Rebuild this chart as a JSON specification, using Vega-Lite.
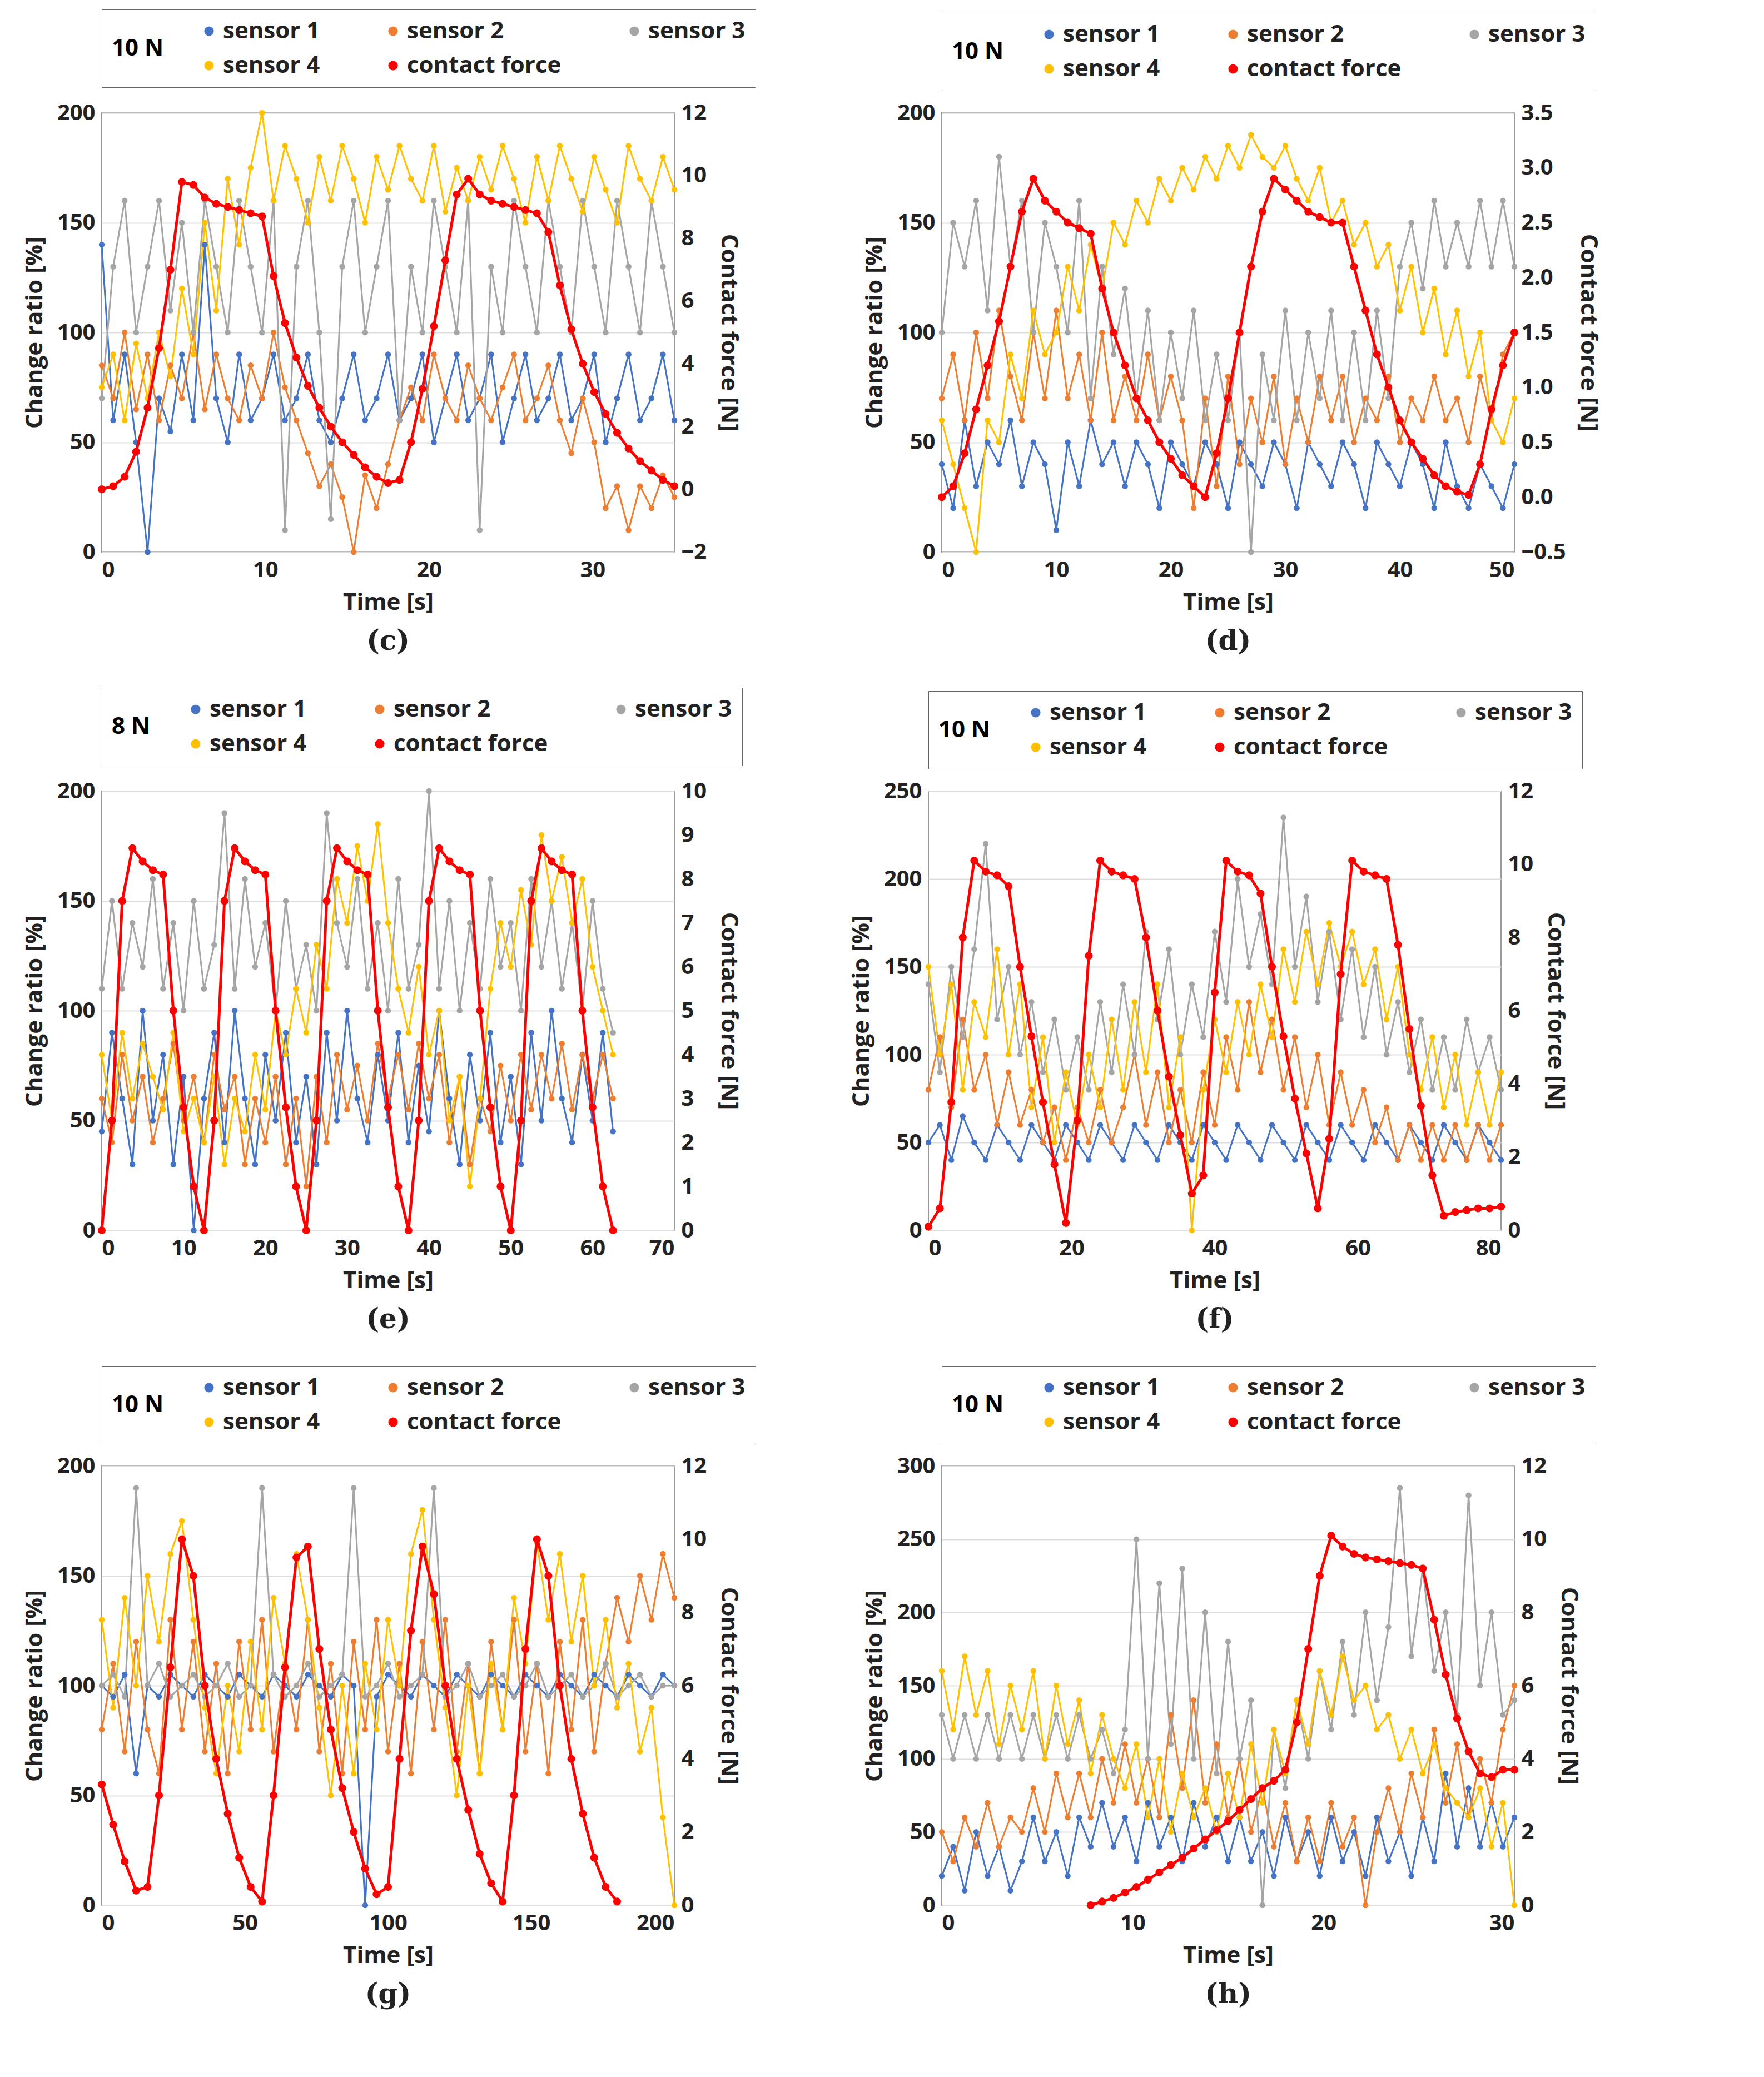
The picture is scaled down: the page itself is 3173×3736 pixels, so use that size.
{
  "$schema": "https://vega.github.io/schema/vega-lite/v6.json",
  "background": "white",
  "padding": {"left": 40, "top": 15, "right": 20, "bottom": 10},
  "vconcat": [
    {
      "hconcat": [
        {
          "width": 1030, "height": 790,
          "title": {"text": "(c)", "orient": "bottom"},
          "data": {"values": [
            {"t":0,"s1":140,"s2":85,"s3":70,"s4":75,"F":0},
            {"t":0.7,"s1":60,"s2":70,"s3":130,"s4":90,"F":0.1},
            {"t":1.4,"s1":90,"s2":100,"s3":160,"s4":60,"F":0.4},
            {"t":2.1,"s1":50,"s2":65,"s3":100,"s4":95,"F":1.2},
            {"t":2.8,"s1":0,"s2":90,"s3":130,"s4":70,"F":2.6},
            {"t":3.5,"s1":70,"s2":60,"s3":160,"s4":100,"F":4.5},
            {"t":4.2,"s1":55,"s2":85,"s3":110,"s4":80,"F":7},
            {"t":4.9,"s1":90,"s2":70,"s3":150,"s4":120,"F":9.8},
            {"t":5.6,"s1":60,"s2":100,"s3":100,"s4":90,"F":9.7},
            {"t":6.3,"s1":140,"s2":65,"s3":160,"s4":150,"F":9.3},
            {"t":7,"s1":70,"s2":90,"s3":130,"s4":110,"F":9.1},
            {"t":7.7,"s1":50,"s2":70,"s3":100,"s4":170,"F":9.0},
            {"t":8.4,"s1":90,"s2":60,"s3":160,"s4":140,"F":8.9},
            {"t":9.1,"s1":60,"s2":85,"s3":130,"s4":175,"F":8.8},
            {"t":9.8,"s1":70,"s2":70,"s3":100,"s4":200,"F":8.7},
            {"t":10.5,"s1":90,"s2":100,"s3":160,"s4":160,"F":6.8},
            {"t":11.2,"s1":60,"s2":75,"s3":10,"s4":185,"F":5.3},
            {"t":11.9,"s1":70,"s2":60,"s3":130,"s4":170,"F":4.2},
            {"t":12.6,"s1":90,"s2":45,"s3":160,"s4":150,"F":3.3},
            {"t":13.3,"s1":60,"s2":30,"s3":100,"s4":180,"F":2.6},
            {"t":14,"s1":50,"s2":40,"s3":15,"s4":160,"F":2},
            {"t":14.7,"s1":70,"s2":25,"s3":130,"s4":185,"F":1.5},
            {"t":15.4,"s1":90,"s2":0,"s3":160,"s4":170,"F":1.1},
            {"t":16.1,"s1":60,"s2":35,"s3":100,"s4":150,"F":0.7},
            {"t":16.8,"s1":70,"s2":20,"s3":130,"s4":180,"F":0.4},
            {"t":17.5,"s1":90,"s2":40,"s3":160,"s4":165,"F":0.2},
            {"t":18.2,"s1":60,"s2":60,"s3":60,"s4":185,"F":0.3},
            {"t":18.9,"s1":70,"s2":75,"s3":130,"s4":170,"F":1.5},
            {"t":19.6,"s1":90,"s2":60,"s3":100,"s4":160,"F":3.2},
            {"t":20.3,"s1":50,"s2":90,"s3":160,"s4":185,"F":5.2},
            {"t":21,"s1":70,"s2":70,"s3":130,"s4":155,"F":7.3},
            {"t":21.7,"s1":90,"s2":60,"s3":100,"s4":175,"F":9.4},
            {"t":22.4,"s1":60,"s2":85,"s3":160,"s4":160,"F":9.9},
            {"t":23.1,"s1":70,"s2":70,"s3":10,"s4":180,"F":9.4},
            {"t":23.8,"s1":90,"s2":60,"s3":130,"s4":165,"F":9.2},
            {"t":24.5,"s1":50,"s2":75,"s3":100,"s4":185,"F":9.1},
            {"t":25.2,"s1":70,"s2":90,"s3":160,"s4":170,"F":9.0},
            {"t":25.9,"s1":90,"s2":60,"s3":130,"s4":150,"F":8.9},
            {"t":26.6,"s1":60,"s2":70,"s3":100,"s4":180,"F":8.8},
            {"t":27.3,"s1":70,"s2":85,"s3":160,"s4":160,"F":8.2},
            {"t":28,"s1":90,"s2":60,"s3":130,"s4":185,"F":6.5},
            {"t":28.7,"s1":60,"s2":45,"s3":100,"s4":170,"F":5.1},
            {"t":29.4,"s1":70,"s2":70,"s3":160,"s4":155,"F":4.0},
            {"t":30.1,"s1":90,"s2":50,"s3":130,"s4":180,"F":3.1},
            {"t":30.8,"s1":50,"s2":20,"s3":100,"s4":165,"F":2.4},
            {"t":31.5,"s1":70,"s2":30,"s3":160,"s4":150,"F":1.8},
            {"t":32.2,"s1":90,"s2":10,"s3":130,"s4":185,"F":1.3},
            {"t":32.9,"s1":60,"s2":30,"s3":100,"s4":170,"F":0.9},
            {"t":33.6,"s1":70,"s2":20,"s3":160,"s4":160,"F":0.6},
            {"t":34.3,"s1":90,"s2":35,"s3":130,"s4":180,"F":0.3},
            {"t":35,"s1":60,"s2":25,"s3":100,"s4":165,"F":0.1}
          ]},
          "layer": [
            {
              "transform": [{"fold": ["s1","s2","s3","s4"], "as": ["key","v"]}],
              "mark": {"type": "line", "strokeWidth": 3, "point": {"filled": true, "size": 110}},
              "encoding": {
                "x": {"field": "t", "type": "quantitative", "scale": {"domain": [0,35]}, "axis": {"title": "Time  [s]", "values": [0,10,20,30]}},
                "y": {"field": "v", "type": "quantitative", "scale": {"domain": [0,200]}, "axis": {"title": "Change ratio  [%]", "values": [0,50,100,150,200]}},
                "color": {"field": "key", "type": "nominal", "scale": {"domain": ["s1","s2","s3","s4","F"], "range": ["#4472C4","#ED7D31","#A5A5A5","#FFC000","#FF0000"]}, "legend": {"title": "10 N", "labelExpr": "datum.value == 'F' ? 'contact force' : 'sensor ' + slice(datum.value, 1)"}}
              }
            },
            {
              "transform": [{"filter": "datum.F != null"}],
              "mark": {"type": "line", "strokeWidth": 5, "color": "#FF0000", "point": {"filled": true, "size": 200, "color": "#FF0000"}},
              "encoding": {
                "x": {"field": "t", "type": "quantitative"},
                "y": {"field": "F", "type": "quantitative", "scale": {"domain": [-2,12]}, "axis": {"orient": "right", "title": "Contact force  [N]", "values": [-2,0,2,4,6,8,10,12], "grid": false}},
                "color": {"datum": "F"}
              }
            }
          ],
          "resolve": {"scale": {"y": "independent"}}
        },
        {
          "width": 1030, "height": 790,
          "title": {"text": "(d)", "orient": "bottom"},
          "data": {"values": [
            {"t":0,"s1":40,"s2":70,"s3":100,"s4":60,"F":0},
            {"t":1,"s1":20,"s2":90,"s3":150,"s4":40,"F":0.1},
            {"t":2,"s1":60,"s2":60,"s3":130,"s4":20,"F":0.4},
            {"t":3,"s1":30,"s2":100,"s3":160,"s4":0,"F":0.8},
            {"t":4,"s1":50,"s2":70,"s3":110,"s4":60,"F":1.2},
            {"t":5,"s1":40,"s2":110,"s3":180,"s4":50,"F":1.6},
            {"t":6,"s1":60,"s2":80,"s3":130,"s4":90,"F":2.1},
            {"t":7,"s1":30,"s2":60,"s3":160,"s4":70,"F":2.6},
            {"t":8,"s1":50,"s2":100,"s3":100,"s4":110,"F":2.9},
            {"t":9,"s1":40,"s2":70,"s3":150,"s4":90,"F":2.7},
            {"t":10,"s1":10,"s2":110,"s3":130,"s4":100,"F":2.6},
            {"t":11,"s1":50,"s2":70,"s3":100,"s4":130,"F":2.5},
            {"t":12,"s1":30,"s2":90,"s3":160,"s4":110,"F":2.45},
            {"t":13,"s1":60,"s2":60,"s3":70,"s4":140,"F":2.4},
            {"t":14,"s1":40,"s2":100,"s3":130,"s4":120,"F":1.9},
            {"t":15,"s1":50,"s2":60,"s3":90,"s4":150,"F":1.5},
            {"t":16,"s1":30,"s2":80,"s3":120,"s4":140,"F":1.2},
            {"t":17,"s1":50,"s2":60,"s3":70,"s4":160,"F":0.9},
            {"t":18,"s1":40,"s2":90,"s3":110,"s4":150,"F":0.7},
            {"t":19,"s1":20,"s2":60,"s3":60,"s4":170,"F":0.5},
            {"t":20,"s1":50,"s2":80,"s3":100,"s4":160,"F":0.35},
            {"t":21,"s1":40,"s2":60,"s3":70,"s4":175,"F":0.2},
            {"t":22,"s1":30,"s2":20,"s3":110,"s4":165,"F":0.1},
            {"t":23,"s1":50,"s2":70,"s3":60,"s4":180,"F":0},
            {"t":24,"s1":40,"s2":30,"s3":90,"s4":170,"F":0.4},
            {"t":25,"s1":20,"s2":80,"s3":60,"s4":185,"F":0.9},
            {"t":26,"s1":50,"s2":40,"s3":100,"s4":175,"F":1.5},
            {"t":27,"s1":40,"s2":70,"s3":0,"s4":190,"F":2.1},
            {"t":28,"s1":30,"s2":50,"s3":90,"s4":180,"F":2.6},
            {"t":29,"s1":50,"s2":80,"s3":60,"s4":175,"F":2.9},
            {"t":30,"s1":40,"s2":40,"s3":110,"s4":185,"F":2.8},
            {"t":31,"s1":20,"s2":70,"s3":60,"s4":170,"F":2.7},
            {"t":32,"s1":50,"s2":50,"s3":100,"s4":160,"F":2.6},
            {"t":33,"s1":40,"s2":80,"s3":70,"s4":175,"F":2.55},
            {"t":34,"s1":30,"s2":60,"s3":110,"s4":150,"F":2.5},
            {"t":35,"s1":50,"s2":80,"s3":60,"s4":160,"F":2.5},
            {"t":36,"s1":40,"s2":50,"s3":100,"s4":140,"F":2.1},
            {"t":37,"s1":20,"s2":70,"s3":60,"s4":150,"F":1.7},
            {"t":38,"s1":50,"s2":60,"s3":110,"s4":130,"F":1.3},
            {"t":39,"s1":40,"s2":80,"s3":70,"s4":140,"F":1.0},
            {"t":40,"s1":30,"s2":50,"s3":130,"s4":110,"F":0.7},
            {"t":41,"s1":50,"s2":70,"s3":150,"s4":130,"F":0.5},
            {"t":42,"s1":40,"s2":60,"s3":120,"s4":100,"F":0.35},
            {"t":43,"s1":20,"s2":80,"s3":160,"s4":120,"F":0.2},
            {"t":44,"s1":50,"s2":60,"s3":130,"s4":90,"F":0.1},
            {"t":45,"s1":30,"s2":70,"s3":150,"s4":110,"F":0.05},
            {"t":46,"s1":20,"s2":50,"s3":130,"s4":80,"F":0.02},
            {"t":47,"s1":40,"s2":80,"s3":160,"s4":100,"F":0.3},
            {"t":48,"s1":30,"s2":60,"s3":130,"s4":60,"F":0.8},
            {"t":49,"s1":20,"s2":90,"s3":160,"s4":50,"F":1.2},
            {"t":50,"s1":40,"s2":100,"s3":130,"s4":70,"F":1.5}
          ]},
          "layer": [
            {
              "transform": [{"fold": ["s1","s2","s3","s4"], "as": ["key","v"]}],
              "mark": {"type": "line", "strokeWidth": 3, "point": {"filled": true, "size": 110}},
              "encoding": {
                "x": {"field": "t", "type": "quantitative", "scale": {"domain": [0,50]}, "axis": {"title": "Time  [s]", "values": [0,10,20,30,40,50]}},
                "y": {"field": "v", "type": "quantitative", "scale": {"domain": [0,200]}, "axis": {"title": "Change ratio  [%]", "values": [0,50,100,150,200]}},
                "color": {"field": "key", "type": "nominal", "scale": {"domain": ["s1","s2","s3","s4","F"], "range": ["#4472C4","#ED7D31","#A5A5A5","#FFC000","#FF0000"]}, "legend": {"title": "10 N", "labelExpr": "datum.value == 'F' ? 'contact force' : 'sensor ' + slice(datum.value, 1)"}}
              }
            },
            {
              "transform": [{"filter": "datum.F != null"}],
              "mark": {"type": "line", "strokeWidth": 5, "color": "#FF0000", "point": {"filled": true, "size": 200, "color": "#FF0000"}},
              "encoding": {
                "x": {"field": "t", "type": "quantitative"},
                "y": {"field": "F", "type": "quantitative", "scale": {"domain": [-0.5,3.5]}, "axis": {"orient": "right", "title": "Contact force  [N]", "values": [-0.5,0,0.5,1,1.5,2,2.5,3,3.5], "grid": false}},
                "color": {"datum": "F"}
              }
            }
          ],
          "resolve": {"scale": {"y": "independent"}}
        }
      ],
      "spacing": 190,
      "resolve": {"scale": {"color": "independent"}, "legend": {"color": "independent"}}
    },
    {
      "hconcat": [
        {
          "width": 1030, "height": 790,
          "title": {"text": "(e)", "orient": "bottom"},
          "data": {"values": [
            {"t":0,"s1":45,"s2":60,"s3":110,"s4":80,"F":0},
            {"t":1.25,"s1":90,"s2":40,"s3":150,"s4":50,"F":2.5},
            {"t":2.5,"s1":60,"s2":80,"s3":110,"s4":90,"F":7.5},
            {"t":3.75,"s1":30,"s2":50,"s3":140,"s4":60,"F":8.7},
            {"t":5,"s1":100,"s2":70,"s3":120,"s4":85,"F":8.4},
            {"t":6.25,"s1":50,"s2":40,"s3":160,"s4":70,"F":8.2},
            {"t":7.5,"s1":80,"s2":60,"s3":110,"s4":55,"F":8.1},
            {"t":8.75,"s1":30,"s2":85,"s3":140,"s4":90,"F":5},
            {"t":10,"s1":70,"s2":50,"s3":100,"s4":45,"F":2.8},
            {"t":11.25,"s1":0,"s2":70,"s3":150,"s4":60,"F":1.0},
            {"t":12.5,"s1":60,"s2":40,"s3":110,"s4":40,"F":0},
            {"t":13.75,"s1":90,"s2":80,"s3":130,"s4":70,"F":2.5},
            {"t":15,"s1":40,"s2":55,"s3":190,"s4":30,"F":7.5},
            {"t":16.25,"s1":100,"s2":70,"s3":110,"s4":60,"F":8.7},
            {"t":17.5,"s1":60,"s2":30,"s3":160,"s4":45,"F":8.4},
            {"t":18.75,"s1":30,"s2":60,"s3":120,"s4":80,"F":8.2},
            {"t":20,"s1":80,"s2":40,"s3":140,"s4":55,"F":8.1},
            {"t":21.25,"s1":50,"s2":70,"s3":100,"s4":100,"F":5},
            {"t":22.5,"s1":90,"s2":30,"s3":150,"s4":80,"F":2.8},
            {"t":23.75,"s1":40,"s2":60,"s3":110,"s4":110,"F":1.0},
            {"t":25,"s1":70,"s2":20,"s3":130,"s4":90,"F":0},
            {"t":26.25,"s1":30,"s2":70,"s3":100,"s4":130,"F":2.5},
            {"t":27.5,"s1":90,"s2":40,"s3":190,"s4":110,"F":7.5},
            {"t":28.75,"s1":50,"s2":80,"s3":140,"s4":160,"F":8.7},
            {"t":30,"s1":100,"s2":55,"s3":120,"s4":140,"F":8.4},
            {"t":31.25,"s1":60,"s2":75,"s3":160,"s4":175,"F":8.2},
            {"t":32.5,"s1":40,"s2":50,"s3":110,"s4":150,"F":8.1},
            {"t":33.75,"s1":80,"s2":85,"s3":140,"s4":185,"F":5},
            {"t":35,"s1":50,"s2":60,"s3":100,"s4":140,"F":2.8},
            {"t":36.25,"s1":90,"s2":80,"s3":160,"s4":110,"F":1.0},
            {"t":37.5,"s1":40,"s2":55,"s3":110,"s4":90,"F":0},
            {"t":38.75,"s1":75,"s2":85,"s3":130,"s4":120,"F":2.5},
            {"t":40,"s1":45,"s2":60,"s3":200,"s4":80,"F":7.5},
            {"t":41.25,"s1":100,"s2":80,"s3":110,"s4":100,"F":8.7},
            {"t":42.5,"s1":60,"s2":40,"s3":150,"s4":50,"F":8.4},
            {"t":43.75,"s1":30,"s2":70,"s3":100,"s4":70,"F":8.2},
            {"t":45,"s1":80,"s2":30,"s3":140,"s4":20,"F":8.1},
            {"t":46.25,"s1":50,"s2":60,"s3":110,"s4":60,"F":5},
            {"t":47.5,"s1":90,"s2":45,"s3":160,"s4":110,"F":2.8},
            {"t":48.75,"s1":40,"s2":75,"s3":120,"s4":140,"F":1.0},
            {"t":50,"s1":70,"s2":50,"s3":140,"s4":120,"F":0},
            {"t":51.25,"s1":30,"s2":80,"s3":100,"s4":155,"F":2.5},
            {"t":52.5,"s1":90,"s2":55,"s3":160,"s4":130,"F":7.5},
            {"t":53.75,"s1":50,"s2":80,"s3":120,"s4":180,"F":8.7},
            {"t":55,"s1":100,"s2":60,"s3":150,"s4":150,"F":8.4},
            {"t":56.25,"s1":60,"s2":85,"s3":110,"s4":170,"F":8.2},
            {"t":57.5,"s1":40,"s2":55,"s3":140,"s4":140,"F":8.1},
            {"t":58.75,"s1":80,"s2":80,"s3":100,"s4":160,"F":5},
            {"t":60,"s1":50,"s2":60,"s3":150,"s4":120,"F":2.8},
            {"t":61.25,"s1":90,"s2":80,"s3":110,"s4":100,"F":1.0},
            {"t":62.5,"s1":45,"s2":60,"s3":90,"s4":80,"F":0}
          ]},
          "layer": [
            {
              "transform": [{"fold": ["s1","s2","s3","s4"], "as": ["key","v"]}],
              "mark": {"type": "line", "strokeWidth": 3, "point": {"filled": true, "size": 110}},
              "encoding": {
                "x": {"field": "t", "type": "quantitative", "scale": {"domain": [0,70]}, "axis": {"title": "Time  [s]", "values": [0,10,20,30,40,50,60,70]}},
                "y": {"field": "v", "type": "quantitative", "scale": {"domain": [0,200]}, "axis": {"title": "Change ratio  [%]", "values": [0,50,100,150,200]}},
                "color": {"field": "key", "type": "nominal", "scale": {"domain": ["s1","s2","s3","s4","F"], "range": ["#4472C4","#ED7D31","#A5A5A5","#FFC000","#FF0000"]}, "legend": {"title": "8 N", "labelExpr": "datum.value == 'F' ? 'contact force' : 'sensor ' + slice(datum.value, 1)"}}
              }
            },
            {
              "transform": [{"filter": "datum.F != null"}],
              "mark": {"type": "line", "strokeWidth": 5, "color": "#FF0000", "point": {"filled": true, "size": 200, "color": "#FF0000"}},
              "encoding": {
                "x": {"field": "t", "type": "quantitative"},
                "y": {"field": "F", "type": "quantitative", "scale": {"domain": [0,10]}, "axis": {"orient": "right", "title": "Contact force  [N]", "values": [0,1,2,3,4,5,6,7,8,9,10], "grid": false}},
                "color": {"datum": "F"}
              }
            }
          ],
          "resolve": {"scale": {"y": "independent"}}
        },
        {
          "width": 1030, "height": 790,
          "title": {"text": "(f)", "orient": "bottom"},
          "data": {"values": [
            {"t":0,"s1":50,"s2":80,"s3":140,"s4":150,"F":0.1},
            {"t":1.6,"s1":60,"s2":110,"s3":90,"s4":100,"F":0.6},
            {"t":3.2,"s1":40,"s2":70,"s3":150,"s4":140,"F":3.5},
            {"t":4.8,"s1":65,"s2":120,"s3":110,"s4":80,"F":8},
            {"t":6.4,"s1":50,"s2":80,"s3":160,"s4":130,"F":10.1},
            {"t":8,"s1":40,"s2":100,"s3":220,"s4":110,"F":9.8},
            {"t":9.6,"s1":60,"s2":60,"s3":120,"s4":160,"F":9.7},
            {"t":11.2,"s1":50,"s2":90,"s3":150,"s4":100,"F":9.4},
            {"t":12.8,"s1":40,"s2":60,"s3":100,"s4":140,"F":7.2},
            {"t":14.4,"s1":60,"s2":80,"s3":130,"s4":70,"F":5.3},
            {"t":16,"s1":50,"s2":50,"s3":90,"s4":110,"F":3.5},
            {"t":17.6,"s1":40,"s2":70,"s3":120,"s4":50,"F":1.8},
            {"t":19.2,"s1":60,"s2":40,"s3":80,"s4":90,"F":0.2},
            {"t":20.8,"s1":50,"s2":70,"s3":110,"s4":60,"F":3},
            {"t":22.4,"s1":40,"s2":50,"s3":80,"s4":100,"F":7.5},
            {"t":24,"s1":60,"s2":80,"s3":130,"s4":70,"F":10.1},
            {"t":25.6,"s1":50,"s2":50,"s3":90,"s4":120,"F":9.8},
            {"t":27.2,"s1":40,"s2":70,"s3":140,"s4":80,"F":9.7},
            {"t":28.8,"s1":60,"s2":100,"s3":100,"s4":130,"F":9.6},
            {"t":30.4,"s1":50,"s2":60,"s3":170,"s4":90,"F":8.0},
            {"t":32,"s1":40,"s2":90,"s3":120,"s4":140,"F":6.0},
            {"t":33.6,"s1":60,"s2":50,"s3":160,"s4":70,"F":4.2},
            {"t":35.2,"s1":50,"s2":80,"s3":100,"s4":110,"F":2.6},
            {"t":36.8,"s1":40,"s2":50,"s3":140,"s4":0,"F":1.0},
            {"t":38.4,"s1":60,"s2":90,"s3":110,"s4":80,"F":1.5},
            {"t":40,"s1":50,"s2":60,"s3":170,"s4":120,"F":6.5},
            {"t":41.6,"s1":40,"s2":110,"s3":130,"s4":90,"F":10.1},
            {"t":43.2,"s1":60,"s2":80,"s3":200,"s4":130,"F":9.8},
            {"t":44.8,"s1":50,"s2":130,"s3":150,"s4":100,"F":9.7},
            {"t":46.4,"s1":40,"s2":90,"s3":180,"s4":140,"F":9.2},
            {"t":48,"s1":60,"s2":120,"s3":140,"s4":110,"F":7.2},
            {"t":49.6,"s1":50,"s2":80,"s3":235,"s4":160,"F":5.3},
            {"t":51.2,"s1":40,"s2":110,"s3":150,"s4":130,"F":3.6},
            {"t":52.8,"s1":60,"s2":70,"s3":190,"s4":170,"F":2.1},
            {"t":54.4,"s1":50,"s2":100,"s3":130,"s4":140,"F":0.6},
            {"t":56,"s1":40,"s2":60,"s3":170,"s4":175,"F":2.5},
            {"t":57.6,"s1":60,"s2":90,"s3":120,"s4":150,"F":7},
            {"t":59.2,"s1":50,"s2":60,"s3":160,"s4":170,"F":10.1},
            {"t":60.8,"s1":40,"s2":80,"s3":110,"s4":140,"F":9.8},
            {"t":62.4,"s1":60,"s2":50,"s3":150,"s4":160,"F":9.7},
            {"t":64,"s1":50,"s2":70,"s3":100,"s4":120,"F":9.6},
            {"t":65.6,"s1":40,"s2":40,"s3":130,"s4":150,"F":7.8},
            {"t":67.2,"s1":60,"s2":60,"s3":90,"s4":100,"F":5.5},
            {"t":68.8,"s1":50,"s2":40,"s3":120,"s4":80,"F":3.4},
            {"t":70.4,"s1":40,"s2":60,"s3":80,"s4":110,"F":1.5},
            {"t":72,"s1":60,"s2":40,"s3":110,"s4":70,"F":0.4},
            {"t":73.6,"s1":50,"s2":60,"s3":80,"s4":100,"F":0.5},
            {"t":75.2,"s1":40,"s2":40,"s3":120,"s4":60,"F":0.55},
            {"t":76.8,"s1":60,"s2":60,"s3":90,"s4":90,"F":0.6},
            {"t":78.4,"s1":50,"s2":40,"s3":110,"s4":60,"F":0.6},
            {"t":80,"s1":40,"s2":60,"s3":80,"s4":90,"F":0.65}
          ]},
          "layer": [
            {
              "transform": [{"fold": ["s1","s2","s3","s4"], "as": ["key","v"]}],
              "mark": {"type": "line", "strokeWidth": 3, "point": {"filled": true, "size": 110}},
              "encoding": {
                "x": {"field": "t", "type": "quantitative", "scale": {"domain": [0,80]}, "axis": {"title": "Time  [s]", "values": [0,20,40,60,80]}},
                "y": {"field": "v", "type": "quantitative", "scale": {"domain": [0,250]}, "axis": {"title": "Change ratio  [%]", "values": [0,50,100,150,200,250]}},
                "color": {"field": "key", "type": "nominal", "scale": {"domain": ["s1","s2","s3","s4","F"], "range": ["#4472C4","#ED7D31","#A5A5A5","#FFC000","#FF0000"]}, "legend": {"title": "10 N", "labelExpr": "datum.value == 'F' ? 'contact force' : 'sensor ' + slice(datum.value, 1)"}}
              }
            },
            {
              "transform": [{"filter": "datum.F != null"}],
              "mark": {"type": "line", "strokeWidth": 5, "color": "#FF0000", "point": {"filled": true, "size": 200, "color": "#FF0000"}},
              "encoding": {
                "x": {"field": "t", "type": "quantitative"},
                "y": {"field": "F", "type": "quantitative", "scale": {"domain": [0,12]}, "axis": {"orient": "right", "title": "Contact force  [N]", "values": [0,2,4,6,8,10,12], "grid": false}},
                "color": {"datum": "F"}
              }
            }
          ],
          "resolve": {"scale": {"y": "independent"}}
        }
      ],
      "spacing": 190,
      "resolve": {"scale": {"color": "independent"}, "legend": {"color": "independent"}}
    },
    {
      "hconcat": [
        {
          "width": 1030, "height": 790,
          "title": {"text": "(g)", "orient": "bottom"},
          "data": {"values": [
            {"t":0,"s1":100,"s2":80,"s3":100,"s4":130,"F":3.3},
            {"t":4,"s1":95,"s2":110,"s3":105,"s4":90,"F":2.2},
            {"t":8,"s1":105,"s2":70,"s3":95,"s4":140,"F":1.2},
            {"t":12,"s1":60,"s2":120,"s3":190,"s4":100,"F":0.4},
            {"t":16,"s1":100,"s2":80,"s3":100,"s4":150,"F":0.5},
            {"t":20,"s1":95,"s2":60,"s3":110,"s4":120,"F":3},
            {"t":24,"s1":105,"s2":130,"s3":95,"s4":160,"F":6.5},
            {"t":28,"s1":100,"s2":80,"s3":100,"s4":175,"F":10},
            {"t":32,"s1":95,"s2":120,"s3":105,"s4":130,"F":9},
            {"t":36,"s1":105,"s2":70,"s3":95,"s4":90,"F":6},
            {"t":40,"s1":100,"s2":110,"s3":100,"s4":60,"F":4},
            {"t":44,"s1":95,"s2":60,"s3":110,"s4":100,"F":2.5},
            {"t":48,"s1":105,"s2":120,"s3":95,"s4":70,"F":1.3},
            {"t":52,"s1":100,"s2":80,"s3":100,"s4":120,"F":0.5},
            {"t":56,"s1":95,"s2":130,"s3":190,"s4":80,"F":0.1},
            {"t":60,"s1":105,"s2":70,"s3":105,"s4":140,"F":3},
            {"t":64,"s1":100,"s2":110,"s3":95,"s4":110,"F":6.5},
            {"t":68,"s1":95,"s2":80,"s3":100,"s4":160,"F":9.5},
            {"t":72,"s1":105,"s2":130,"s3":110,"s4":130,"F":9.8},
            {"t":76,"s1":100,"s2":70,"s3":95,"s4":90,"F":7},
            {"t":80,"s1":95,"s2":110,"s3":100,"s4":50,"F":4.8},
            {"t":84,"s1":105,"s2":60,"s3":105,"s4":100,"F":3.2},
            {"t":88,"s1":100,"s2":120,"s3":190,"s4":60,"F":2},
            {"t":92,"s1":0,"s2":80,"s3":95,"s4":110,"F":1},
            {"t":96,"s1":95,"s2":130,"s3":100,"s4":80,"F":0.3},
            {"t":100,"s1":105,"s2":70,"s3":110,"s4":130,"F":0.5},
            {"t":104,"s1":100,"s2":110,"s3":95,"s4":100,"F":4},
            {"t":108,"s1":95,"s2":60,"s3":100,"s4":160,"F":7.5},
            {"t":112,"s1":105,"s2":120,"s3":105,"s4":180,"F":9.8},
            {"t":116,"s1":100,"s2":80,"s3":190,"s4":130,"F":8.5},
            {"t":120,"s1":95,"s2":130,"s3":95,"s4":90,"F":6},
            {"t":124,"s1":105,"s2":70,"s3":100,"s4":50,"F":4},
            {"t":128,"s1":100,"s2":110,"s3":110,"s4":100,"F":2.6},
            {"t":132,"s1":95,"s2":60,"s3":95,"s4":60,"F":1.4},
            {"t":136,"s1":105,"s2":120,"s3":100,"s4":110,"F":0.6},
            {"t":140,"s1":100,"s2":80,"s3":105,"s4":80,"F":0.1},
            {"t":144,"s1":95,"s2":130,"s3":95,"s4":140,"F":3},
            {"t":148,"s1":105,"s2":70,"s3":100,"s4":110,"F":7},
            {"t":152,"s1":100,"s2":110,"s3":110,"s4":165,"F":10},
            {"t":156,"s1":95,"s2":60,"s3":95,"s4":130,"F":9},
            {"t":160,"s1":105,"s2":120,"s3":100,"s4":160,"F":6},
            {"t":164,"s1":100,"s2":80,"s3":105,"s4":120,"F":4},
            {"t":168,"s1":95,"s2":130,"s3":95,"s4":150,"F":2.5},
            {"t":172,"s1":105,"s2":70,"s3":100,"s4":100,"F":1.3},
            {"t":176,"s1":100,"s2":110,"s3":110,"s4":130,"F":0.5},
            {"t":180,"s1":95,"s2":140,"s3":95,"s4":90,"F":0.1},
            {"t":184,"s1":105,"s2":120,"s3":100,"s4":110,"F":null},
            {"t":188,"s1":100,"s2":150,"s3":105,"s4":70,"F":null},
            {"t":192,"s1":95,"s2":130,"s3":95,"s4":90,"F":null},
            {"t":196,"s1":105,"s2":160,"s3":100,"s4":40,"F":null},
            {"t":200,"s1":100,"s2":140,"s3":100,"s4":0,"F":null}
          ]},
          "layer": [
            {
              "transform": [{"fold": ["s1","s2","s3","s4"], "as": ["key","v"]}],
              "mark": {"type": "line", "strokeWidth": 3, "point": {"filled": true, "size": 110}},
              "encoding": {
                "x": {"field": "t", "type": "quantitative", "scale": {"domain": [0,200]}, "axis": {"title": "Time  [s]", "values": [0,50,100,150,200]}},
                "y": {"field": "v", "type": "quantitative", "scale": {"domain": [0,200]}, "axis": {"title": "Change ratio  [%]", "values": [0,50,100,150,200]}},
                "color": {"field": "key", "type": "nominal", "scale": {"domain": ["s1","s2","s3","s4","F"], "range": ["#4472C4","#ED7D31","#A5A5A5","#FFC000","#FF0000"]}, "legend": {"title": "10 N", "labelExpr": "datum.value == 'F' ? 'contact force' : 'sensor ' + slice(datum.value, 1)"}}
              }
            },
            {
              "transform": [{"filter": "datum.F != null"}],
              "mark": {"type": "line", "strokeWidth": 5, "color": "#FF0000", "point": {"filled": true, "size": 200, "color": "#FF0000"}},
              "encoding": {
                "x": {"field": "t", "type": "quantitative"},
                "y": {"field": "F", "type": "quantitative", "scale": {"domain": [0,12]}, "axis": {"orient": "right", "title": "Contact force  [N]", "values": [0,2,4,6,8,10,12], "grid": false}},
                "color": {"datum": "F"}
              }
            }
          ],
          "resolve": {"scale": {"y": "independent"}}
        },
        {
          "width": 1030, "height": 790,
          "title": {"text": "(h)", "orient": "bottom"},
          "data": {"values": [
            {"t":0,"s1":20,"s2":50,"s3":130,"s4":160,"F":null},
            {"t":0.6,"s1":40,"s2":30,"s3":100,"s4":120,"F":null},
            {"t":1.2,"s1":10,"s2":60,"s3":130,"s4":170,"F":null},
            {"t":1.8,"s1":50,"s2":40,"s3":100,"s4":130,"F":null},
            {"t":2.4,"s1":20,"s2":70,"s3":130,"s4":160,"F":null},
            {"t":3,"s1":40,"s2":40,"s3":100,"s4":110,"F":null},
            {"t":3.6,"s1":10,"s2":60,"s3":130,"s4":150,"F":null},
            {"t":4.2,"s1":30,"s2":50,"s3":100,"s4":120,"F":null},
            {"t":4.8,"s1":60,"s2":80,"s3":130,"s4":160,"F":null},
            {"t":5.4,"s1":30,"s2":50,"s3":100,"s4":100,"F":null},
            {"t":6,"s1":50,"s2":90,"s3":130,"s4":150,"F":null},
            {"t":6.6,"s1":20,"s2":60,"s3":100,"s4":110,"F":null},
            {"t":7.2,"s1":60,"s2":90,"s3":130,"s4":140,"F":null},
            {"t":7.8,"s1":40,"s2":60,"s3":100,"s4":90,"F":0},
            {"t":8.4,"s1":70,"s2":100,"s3":120,"s4":130,"F":0.1},
            {"t":9,"s1":40,"s2":70,"s3":90,"s4":100,"F":0.2},
            {"t":9.6,"s1":60,"s2":110,"s3":120,"s4":80,"F":0.35},
            {"t":10.2,"s1":30,"s2":70,"s3":250,"s4":110,"F":0.5},
            {"t":10.8,"s1":70,"s2":100,"s3":100,"s4":60,"F":0.7},
            {"t":11.4,"s1":40,"s2":60,"s3":220,"s4":100,"F":0.9},
            {"t":12,"s1":60,"s2":130,"s3":110,"s4":50,"F":1.1},
            {"t":12.6,"s1":30,"s2":80,"s3":230,"s4":90,"F":1.3},
            {"t":13.2,"s1":70,"s2":140,"s3":100,"s4":60,"F":1.55},
            {"t":13.8,"s1":40,"s2":70,"s3":200,"s4":80,"F":1.8},
            {"t":14.4,"s1":60,"s2":110,"s3":90,"s4":50,"F":2.05},
            {"t":15,"s1":30,"s2":60,"s3":180,"s4":90,"F":2.3},
            {"t":15.6,"s1":60,"s2":100,"s3":100,"s4":60,"F":2.6},
            {"t":16.2,"s1":30,"s2":50,"s3":140,"s4":110,"F":2.9},
            {"t":16.8,"s1":50,"s2":80,"s3":0,"s4":70,"F":3.2},
            {"t":17.4,"s1":20,"s2":40,"s3":120,"s4":120,"F":3.4},
            {"t":18,"s1":60,"s2":70,"s3":80,"s4":90,"F":3.7},
            {"t":18.6,"s1":30,"s2":30,"s3":140,"s4":140,"F":5},
            {"t":19.2,"s1":50,"s2":60,"s3":100,"s4":110,"F":7},
            {"t":19.8,"s1":20,"s2":30,"s3":160,"s4":160,"F":9},
            {"t":20.4,"s1":60,"s2":70,"s3":120,"s4":130,"F":10.1},
            {"t":21,"s1":30,"s2":40,"s3":180,"s4":170,"F":9.8},
            {"t":21.6,"s1":50,"s2":60,"s3":130,"s4":140,"F":9.6},
            {"t":22.2,"s1":20,"s2":0,"s3":200,"s4":150,"F":9.5},
            {"t":22.8,"s1":60,"s2":50,"s3":140,"s4":120,"F":9.45},
            {"t":23.4,"s1":30,"s2":80,"s3":190,"s4":130,"F":9.4},
            {"t":24,"s1":50,"s2":50,"s3":285,"s4":100,"F":9.35},
            {"t":24.6,"s1":20,"s2":90,"s3":170,"s4":120,"F":9.3},
            {"t":25.2,"s1":60,"s2":60,"s3":230,"s4":90,"F":9.2},
            {"t":25.8,"s1":30,"s2":120,"s3":160,"s4":110,"F":7.8},
            {"t":26.4,"s1":90,"s2":70,"s3":200,"s4":80,"F":6.3},
            {"t":27,"s1":40,"s2":110,"s3":130,"s4":70,"F":5.1},
            {"t":27.6,"s1":80,"s2":60,"s3":280,"s4":60,"F":4.2},
            {"t":28.2,"s1":40,"s2":100,"s3":150,"s4":80,"F":3.6},
            {"t":28.8,"s1":70,"s2":70,"s3":200,"s4":40,"F":3.5},
            {"t":29.4,"s1":40,"s2":120,"s3":130,"s4":70,"F":3.7},
            {"t":30,"s1":60,"s2":150,"s3":140,"s4":0,"F":3.7}
          ]},
          "layer": [
            {
              "transform": [{"fold": ["s1","s2","s3","s4"], "as": ["key","v"]}],
              "mark": {"type": "line", "strokeWidth": 3, "point": {"filled": true, "size": 110}},
              "encoding": {
                "x": {"field": "t", "type": "quantitative", "scale": {"domain": [0,30]}, "axis": {"title": "Time  [s]", "values": [0,10,20,30]}},
                "y": {"field": "v", "type": "quantitative", "scale": {"domain": [0,300]}, "axis": {"title": "Change ratio  [%]", "values": [0,50,100,150,200,250,300]}},
                "color": {"field": "key", "type": "nominal", "scale": {"domain": ["s1","s2","s3","s4","F"], "range": ["#4472C4","#ED7D31","#A5A5A5","#FFC000","#FF0000"]}, "legend": {"title": "10 N", "labelExpr": "datum.value == 'F' ? 'contact force' : 'sensor ' + slice(datum.value, 1)"}}
              }
            },
            {
              "transform": [{"filter": "datum.F != null"}],
              "mark": {"type": "line", "strokeWidth": 5, "color": "#FF0000", "point": {"filled": true, "size": 200, "color": "#FF0000"}},
              "encoding": {
                "x": {"field": "t", "type": "quantitative"},
                "y": {"field": "F", "type": "quantitative", "scale": {"domain": [0,12]}, "axis": {"orient": "right", "title": "Contact force  [N]", "values": [0,2,4,6,8,10,12], "grid": false}},
                "color": {"datum": "F"}
              }
            }
          ],
          "resolve": {"scale": {"y": "independent"}}
        }
      ],
      "spacing": 190,
      "resolve": {"scale": {"color": "independent"}, "legend": {"color": "independent"}}
    }
  ],
  "spacing": 55,
  "resolve": {"scale": {"color": "independent"}, "legend": {"color": "independent"}},
  "config": {
    "font": "Open Sans",
    "view": {"stroke": "#999999", "strokeWidth": 2},
    "axis": {
      "labelFontSize": 40, "labelFontWeight": "bold", "labelColor": "#222222",
      "titleFontSize": 42, "titleFontWeight": "bold", "titleColor": "#222222",
      "domain": false, "ticks": false, "labelPadding": 12, "titlePadding": 18,
      "grid": true, "gridColor": "#dddddd", "gridWidth": 2
    },
    "axisX": {"grid": false},
    "legend": {
      "orient": "top", "direction": "horizontal", "columns": 3,
      "strokeColor": "#666666", "padding": 18, "offset": 40,
      "titleOrient": "left", "titleFontSize": 42, "titleFontWeight": "bold", "titlePadding": 60,
      "labelFontSize": 42, "labelFontWeight": "bold", "labelColor": "#222222", "labelLimit": 600,
      "symbolType": "circle", "symbolSize": 200, "symbolStrokeWidth": 3,
      "columnPadding": 110, "rowPadding": 20
    },
    "title": {"fontSize": 50, "font": "DejaVu Serif", "fontWeight": "bold", "color": "#222222", "offset": 25}
  }
}
